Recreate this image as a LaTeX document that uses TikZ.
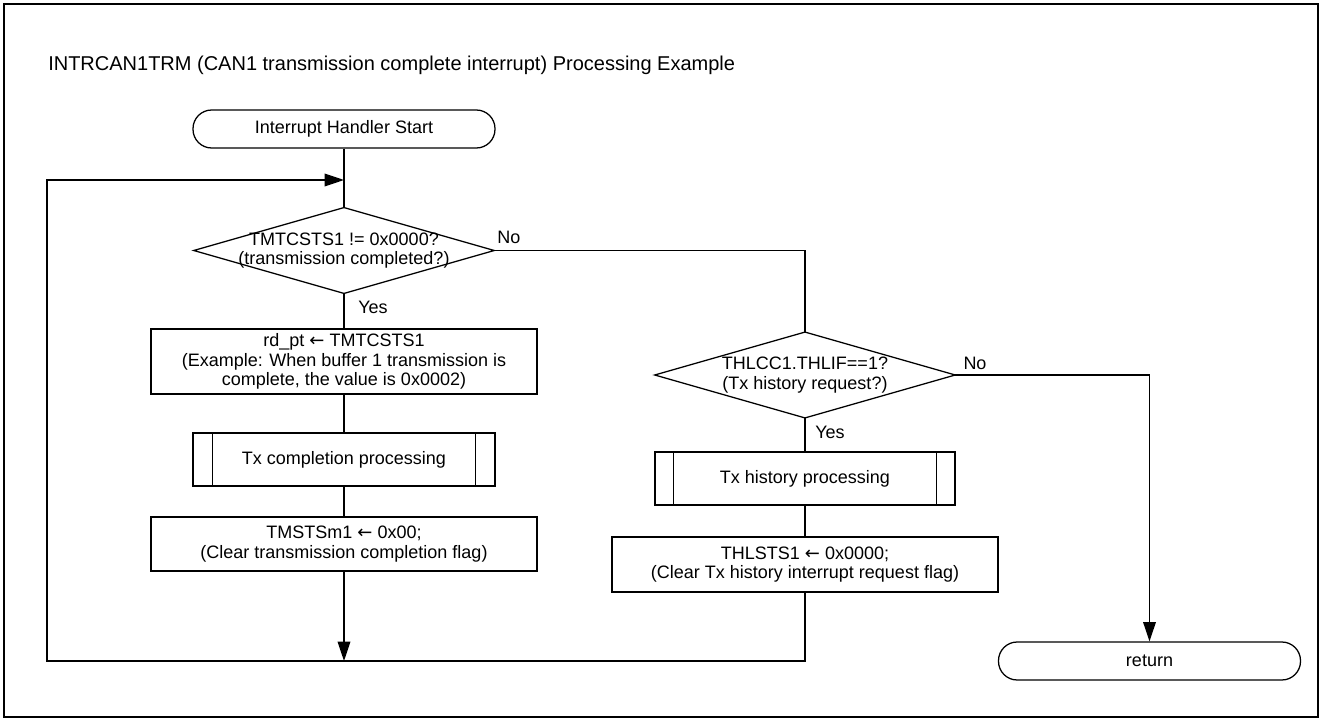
\documentclass[tikz,border=0pt]{standalone}
\usepackage{fontspec}
\setmainfont{Liberation Sans}
\newfontfamily\arrowfont{DejaVu Sans}
\newcommand{\assign}{{\arrowfont ←}}
\usetikzlibrary{arrows.meta}

\begin{document}
\begin{tikzpicture}[x=0.75pt,y=-0.75pt,
  every node/.style={font=\fontsize{13.5}{14.5}\selectfont, inner sep=0pt},
  line/.style={draw=black, line width=0.95pt},
  flow/.style={line, -{Triangle[length=14.5pt,width=9.5pt]}},
  terminal/.style={draw, line width=0.95pt, rounded corners=14pt,
    minimum width=226.5pt, minimum height=28.5pt},
  process/.style={draw, line width=0.95pt, minimum width=289.5pt, align=center},
  subproc/.style={draw, line width=0.95pt, minimum width=226.5pt, minimum height=39.75pt},
  decision/.style={minimum width=225pt, minimum height=64pt, align=center}
]
\useasboundingbox (0,0) rectangle (1322,720);
% outer frame
\draw[line width=1.5pt] (4,4) rectangle (1318,717);

\node[anchor=west, font=\fontsize{15}{17}\selectfont] (title) at (48,65)
  {INTRCAN1TRM (CAN1 transmission complete interrupt) Processing Example};

% left column
\node[terminal] (start) at (344,129) {Interrupt Handler Start};
\coordinate (join) at (344,180);
\node[decision] (d1) at (344,250.5) {TMTCSTS1 != 0x0000?\\(transmission completed?)};
\node[process, minimum height=48.75pt] (rd) at (344,361.5)
  {rd\_pt \assign{} TMTCSTS1\\(Example: When buffer 1 transmission is\\complete, the value is 0x0002)};
\node[subproc] (txc) at (344,459.5) {Tx completion processing};
\node[process, minimum height=40.5pt] (clr1) at (344,544)
  {TMSTSm1 \assign{} 0x00;\\(Clear transmission completion flag)};
\coordinate (m1) at (344,661);
\coordinate (bl) at (47,661);
\coordinate (tl) at (47,180);

% right column
\coordinate (tr) at (805,250.5);
\node[decision] (d2) at (805,375) {THLCC1.THLIF==1?\\(Tx history request?)};
\node[subproc, minimum width=225pt] (txh) at (805,478.5) {Tx history processing};
\node[process, minimum height=41.25pt] (clr2) at (805,564.5)
  {THLSTS1 \assign{} 0x0000;\\(Clear Tx history interrupt request flag)};
\coordinate (br) at (805,661);
\coordinate (rr) at (1149.5,375);
\node[terminal] (ret) at (1149.5,661) {return};

% decision outlines
\draw[line] (d1.north) -- (d1.east) -- (d1.south) -- (d1.west) -- cycle;
\draw[line] (d2.north) -- (d2.east) -- (d2.south) -- (d2.west) -- cycle;

% predefined-process side bars
\draw[line] ([xshift=15pt]txc.north west) -- ([xshift=15pt]txc.south west);
\draw[line] ([xshift=-15pt]txc.north east) -- ([xshift=-15pt]txc.south east);
\draw[line] ([xshift=14.5pt]txh.north west) -- ([xshift=14.5pt]txh.south west);
\draw[line] ([xshift=-14.5pt]txh.north east) -- ([xshift=-14.5pt]txh.south east);

% connectors
\draw[line] (start.south) -- (d1.north);
\draw[line] (d1.south) -- (rd.north);
\draw[line] (rd.south) -- (txc.north);
\draw[line] (txc.south) -- (clr1.north);
\draw[flow] (clr1.south) -- (m1);
\draw[flow] (clr2.south) -- (br) -- (bl) -- (tl) -- (join);
\draw[line] (d1.east) -- (tr) -- (d2.north);
\draw[line] (d2.south) -- (txh.north);
\draw[line] (txh.south) -- (clr2.north);
\draw[flow] (d2.east) -- (rr) -- (ret.north);

% branch labels
\node (no1) at (509,237) {No};
\node (yes1) at (373,307) {Yes};
\node (no2) at (975,363) {No};
\node (yes2) at (830,432) {Yes};
\end{tikzpicture}
\end{document}
